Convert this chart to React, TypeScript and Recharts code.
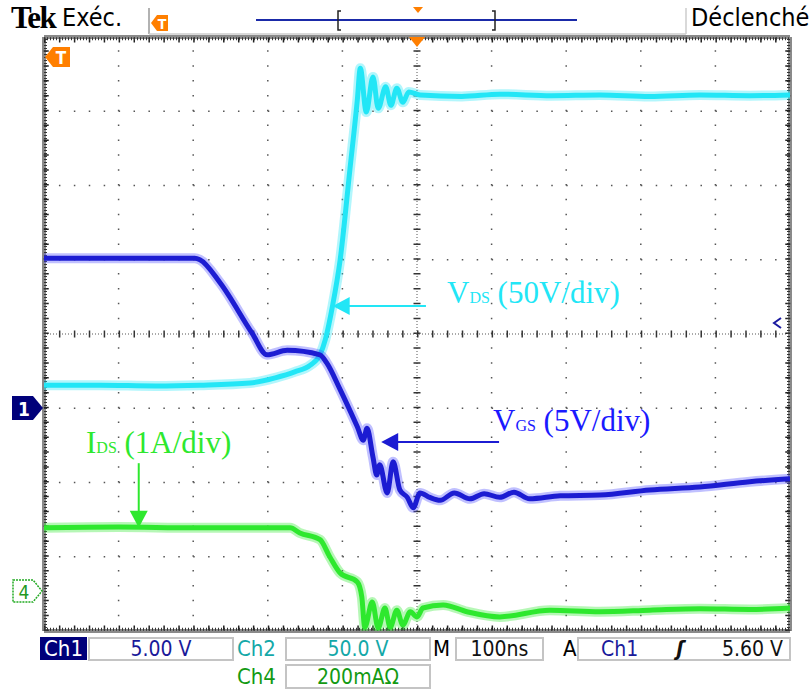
import React from 'react'
import { LineChart, Line, XAxis, YAxis, ReferenceLine, ReferenceDot } from 'recharts'

// time in ns (100 ns/div, trigger at 0), values in divisions
const vdsTime = [-500, -425, -350, -291, -224, -190, -164, -143, -130, -123, -113, -103, -90, -80, -76, -68, -59, -52, -42, -35, -27, -19, -11, 4, 60, 111, 180, 245, 312, 379, 446, 500]
const vdsDiv = [-0.69, -0.69, -0.7, -0.69, -0.66, -0.59, -0.51, -0.42, -0.28, -0.08, 0.39, 1.0, 2.21, 3.15, 3.58, 2.99, 3.46, 3.04, 3.33, 3.08, 3.31, 3.12, 3.26, 3.22, 3.2, 3.23, 3.21, 3.22, 3.2, 3.22, 3.21, 3.22]

const vgsTime = [-500, -400, -298, -291, -264, -221, -201, -174, -130, -121, -103, -80, -72, -67, -59, -54, -50, -40, -32, -23, -13, -5, 4, 17, 31, 50, 71, 90, 111, 130, 151, 192, 245, 312, 379, 446, 500]
const vgsDiv = [1.02, 1.02, 1.02, 1.0, 0.69, 0.01, -0.28, -0.22, -0.28, -0.39, -0.75, -1.25, -1.43, -1.27, -1.66, -1.9, -1.76, -2.14, -1.72, -2.1, -2.2, -2.34, -2.14, -2.2, -2.24, -2.14, -2.22, -2.15, -2.2, -2.13, -2.22, -2.18, -2.17, -2.1, -2.06, -1.99, -1.95]

const idsTime = [-500, -400, -300, -170, -157, -130, -117, -103, -80, -74, -70, -60, -52, -43, -36, -27, -19, -9, 0, 8, 35, 67, 111, 178, 245, 312, 379, 446, 500]
const idsDiv = [-2.61, -2.6, -2.61, -2.61, -2.68, -2.77, -3.0, -3.22, -3.34, -3.54, -3.95, -3.61, -3.96, -3.69, -3.95, -3.72, -3.92, -3.74, -3.81, -3.69, -3.65, -3.74, -3.81, -3.72, -3.74, -3.72, -3.7, -3.71, -3.69]

const xDivs = [-400, -300, -200, -100, 100, 200, 300, 400]
const yDivs = [-3, -2, -1, 1, 2, 3]

const zip = (t: number[], v: number[]) => t.map((x, i) => ({ t: x, v: v[i] }))
const vds = zip(vdsTime, vdsDiv)
const vgs = zip(vgsTime, vgsDiv)
const ids = zip(idsTime, idsDiv)

const CYAN = '#22e6f6'
const BLUE = '#1c1cd2'
const GREEN = '#2ee82e'
const SERIF = '"Liberation Serif", "DejaVu Serif", serif'
const SANS = '"Liberation Sans Narrow", "DejaVu Sans Condensed", "Roboto", sans-serif'

function head(dir: 'left' | 'down', color: string) {
  return (p: any) => {
    const { cx, cy } = p
    const pts =
      dir === 'left'
        ? `${cx},${cy} ${cx + 17},${cy - 9} ${cx + 17},${cy + 9}`
        : `${cx},${cy} ${cx - 9},${cy - 17} ${cx + 9},${cy - 17}`
    return <polygon points={pts} fill={color} />
  }
}

const abs = (x: number, y: number, extra: React.CSSProperties = {}): React.CSSProperties => ({
  position: 'absolute',
  left: x,
  top: y,
  ...extra,
})

const box = (x: number, y: number, w: number, h: number): React.CSSProperties =>
  abs(x, y, {
    width: w,
    height: h,
    border: '2px solid #c4c4c4',
    boxSizing: 'border-box',
    background: '#fff',
    display: 'flex',
    alignItems: 'center',
    justifyContent: 'center',
    fontFamily: SANS,
    fontSize: 21,
  })

export default function App() {
  return (
    <div style={{ position: 'absolute', left: 0, top: 0, width: 809, height: 691, background: '#fff', overflow: 'hidden' }}>
      <LineChart
        width={809}
        height={691}
        margin={{ top: 37, right: 19, bottom: 60, left: 44 }}
        style={{ position: 'absolute', left: 0, top: 0 }}
      >
        <XAxis type="number" dataKey="t" domain={[-500, 500]} hide allowDataOverflow />
        <YAxis type="number" domain={[-4, 4]} hide allowDataOverflow />

        {xDivs.map((x) => (
          <ReferenceLine key={'x' + x} x={x} stroke="#555" strokeWidth={1.5} strokeDasharray="1.5 13.35" />
        ))}
        {yDivs.map((y) => (
          <ReferenceLine key={'y' + y} y={y} stroke="#555" strokeWidth={1.5} strokeDasharray="1.5 13.42" />
        ))}
        <ReferenceLine x={0} stroke="#555" strokeWidth={1} strokeDasharray="1 2" />
        <ReferenceLine x={0} stroke="#333" strokeWidth={7} strokeDasharray="1.5 13.35" />
        <ReferenceLine y={0} stroke="#555" strokeWidth={1} strokeDasharray="1 2" />
        <ReferenceLine y={0} stroke="#333" strokeWidth={7} strokeDasharray="1.5 13.42" />

        <ReferenceLine x={-500} stroke="#8a8a8a" strokeWidth={4} />
        <ReferenceLine x={500} stroke="#8a8a8a" strokeWidth={4} />
        <ReferenceLine y={4} stroke="#8a8a8a" strokeWidth={4} />
        <ReferenceLine y={-4} stroke="#8a8a8a" strokeWidth={4} />
        <ReferenceLine x={-497} stroke="#222" strokeWidth={5} strokeDasharray="1.5 13.35" />
        <ReferenceLine x={497} stroke="#222" strokeWidth={5} strokeDasharray="1.5 13.35" />
        <ReferenceLine y={3.96} stroke="#222" strokeWidth={5} strokeDasharray="1.5 13.42" />
        <ReferenceLine y={-3.96} stroke="#222" strokeWidth={5} strokeDasharray="1.5 13.42" />
        <ReferenceLine x={-498} stroke="#333" strokeWidth={3} strokeDasharray="1 2" />
        <ReferenceLine x={498} stroke="#333" strokeWidth={3} strokeDasharray="1 2" />
        <ReferenceLine y={3.975} stroke="#333" strokeWidth={3} strokeDasharray="1 2" />
        <ReferenceLine y={-3.975} stroke="#333" strokeWidth={3} strokeDasharray="1 2" />

        <Line data={vds} dataKey="v" type="monotone" stroke={CYAN} strokeOpacity={0.35} strokeWidth={10} dot={false} isAnimationActive={false} />
        <Line data={vds} dataKey="v" type="monotone" stroke={CYAN} strokeWidth={5} dot={false} isAnimationActive={false} />
        <Line data={vgs} dataKey="v" type="monotone" stroke="#4a4aff" strokeOpacity={0.35} strokeWidth={10} dot={false} isAnimationActive={false} />
        <Line data={vgs} dataKey="v" type="monotone" stroke={BLUE} strokeWidth={5} dot={false} isAnimationActive={false} />
        <Line data={ids} dataKey="v" type="monotone" stroke={GREEN} strokeOpacity={0.35} strokeWidth={10} dot={false} isAnimationActive={false} />
        <Line data={ids} dataKey="v" type="monotone" stroke={GREEN} strokeWidth={5} dot={false} isAnimationActive={false} />

        <ReferenceLine segment={[{ x: -100, y: 0.377 }, { x: 12, y: 0.377 }]} stroke={CYAN} strokeWidth={2} />
        <ReferenceDot x={-113} y={0.377} shape={head('left', CYAN)} />
        <ReferenceLine segment={[{ x: -35, y: -1.455 }, { x: 110, y: -1.455 }]} stroke={BLUE} strokeWidth={2} />
        <ReferenceDot x={-48} y={-1.455} shape={head('left', BLUE)} />
        <ReferenceLine segment={[{ x: -373, y: -1.74 }, { x: -373, y: -2.45 }]} stroke={GREEN} strokeWidth={2} />
        <ReferenceDot x={-373} y={-2.61} shape={head('down', GREEN)} />
      </LineChart>

      {/* annotations */}
      <div style={abs(447, 275, { fontFamily: SERIF, fontSize: 31, color: CYAN, whiteSpace: 'nowrap' })}>
        V<span style={{ fontSize: 16 }}>DS</span> (50V/div)
      </div>
      <div style={abs(493, 403, { fontFamily: SERIF, fontSize: 31, color: '#1a1aff', whiteSpace: 'nowrap' })}>
        V<span style={{ fontSize: 16 }}>GS</span> (5V/div)
      </div>
      <div style={abs(86, 425, { fontFamily: SERIF, fontSize: 31, color: GREEN, whiteSpace: 'nowrap' })}>
        I<span style={{ fontSize: 16 }}>DS</span> (1A/div)
      </div>

      {/* scope markers */}
      <svg width={809} height={691} style={{ position: 'absolute', left: 0, top: 0, pointerEvents: 'none' }}>
        <polygon points="409,37 425,37 417,47" fill="#ff7f00" />
        <polygon points="45,57 53,47 70,47 70,67 53,67" fill="#ff7f00" />
        <text x={61} y={64} fill="#fff" fontFamily={SANS} fontWeight="bold" fontSize={17} textAnchor="middle">T</text>
        <polygon points="12,396 33,396 43,408 33,420 12,420" fill="#00007a" />
        <text x={24} y={416} fill="#fff" fontFamily={SANS} fontWeight="bold" fontSize={19} textAnchor="middle">1</text>
        <polygon points="13,580 33,580 42,591 33,602 13,602" fill="#fff" stroke="#22aa22" strokeWidth={1.5} strokeDasharray="2 1" />
        <text x={24} y={599} fill="#229922" fontFamily={SANS} fontSize={19} textAnchor="middle">4</text>
        <polyline points="781,318 774,323 781,328" fill="none" stroke="#1a1aa0" strokeWidth={2} />
        {/* header */}
        <line x1={149} y1={8} x2={149} y2={34} stroke="#999" strokeWidth={1.5} />
        <line x1={149} y1={34} x2={686} y2={34} stroke="#ccc" strokeWidth={1.5} />
        <line x1={686} y1={8} x2={686} y2={34} stroke="#ccc" strokeWidth={1.5} />
        <polygon points="151,23 157,15 168,15 168,31 157,31" fill="#ff7f00" />
        <text x={162} y={29} fill="#fff" fontFamily={SANS} fontWeight="bold" fontSize={14} textAnchor="middle">T</text>
        <line x1={256} y1={20} x2={577} y2={20} stroke="#1a2aa8" strokeWidth={2} />
        <polyline points="341,11 338,11 338,30 341,30" fill="none" stroke="#222" strokeWidth={1.5} />
        <polyline points="492,11 495,11 495,30 492,30" fill="none" stroke="#222" strokeWidth={1.5} />
        <polygon points="413,7 423,7 418,13" fill="#ff7f00" />
      </svg>
      <div style={abs(11, 0, { fontFamily: SERIF, fontWeight: 'bold', fontSize: 31, letterSpacing: -1.5 })}>Tek</div>
      <div style={abs(62, 3, { fontFamily: SANS, fontSize: 25 })}>Exéc.</div>
      <div style={abs(691, 3, { fontFamily: SANS, fontSize: 25, whiteSpace: 'nowrap' })}>Déclenché</div>

      {/* footer */}
      <div style={abs(40, 637, { width: 47, height: 23, background: '#00007a', color: '#fff', fontFamily: SANS, fontSize: 22, lineHeight: '23px', textAlign: 'center' })}>Ch1</div>
      <div style={{ ...box(88, 637, 146, 24), color: '#1a1a9a' }}>5.00 V</div>
      <div style={abs(237, 636, { fontFamily: SANS, fontSize: 22, color: '#14a8a8' })}>Ch2</div>
      <div style={{ ...box(285, 637, 146, 24), color: '#14a8a8' }}>50.0 V</div>
      <div style={abs(433, 636, { fontFamily: SANS, fontSize: 22 })}>M</div>
      <div style={{ ...box(455, 637, 89, 24), color: '#111' }}>100ns</div>
      <div style={abs(563, 636, { fontFamily: SANS, fontSize: 22 })}>A</div>
      <div style={{ ...box(577, 637, 214, 24), justifyContent: 'space-between', padding: '0 6px 0 22px', color: '#111' }}>
        <span style={{ color: '#1a1a9a' }}>Ch1</span>
        <span style={{ fontWeight: 'bold', fontStyle: 'italic' }}>ʃ</span>
        <span>5.60 V</span>
      </div>
      <div style={abs(237, 664, { fontFamily: SANS, fontSize: 22, color: '#139a13' })}>Ch4</div>
      <div style={{ ...box(285, 664, 146, 25), color: '#139a13' }}>200mAΩ</div>
    </div>
  )
}
